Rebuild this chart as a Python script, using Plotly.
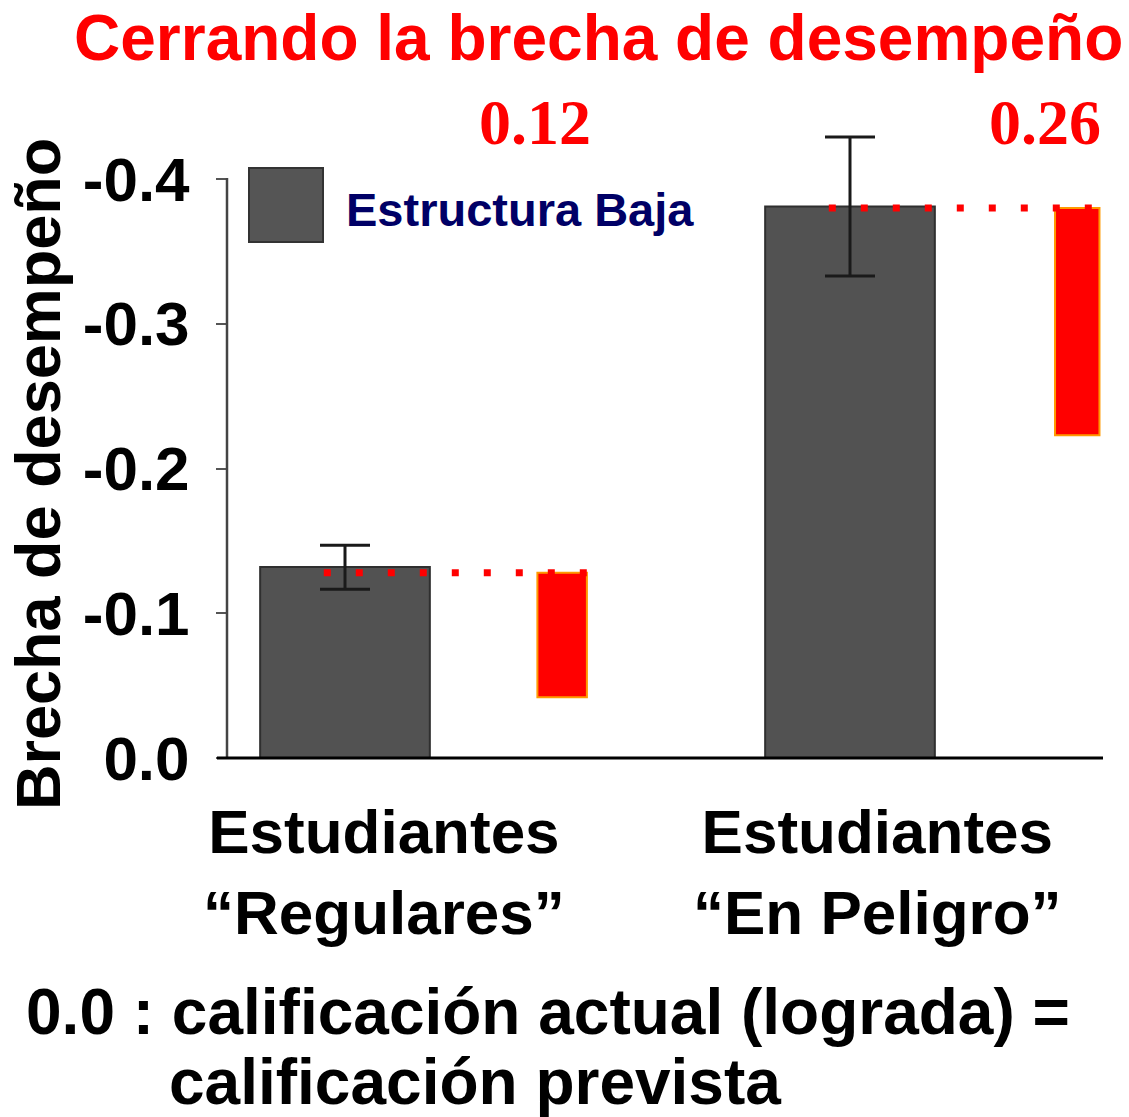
import plotly.graph_objects as go

# ---- data ----
groups = ["Estudiantes<br>“Regulares”", "Estudiantes<br>“En Peligro”"]
gap_low_structure = [-0.132, -0.381]      # gray bars (Estructura Baja)
err_top = [-0.147, -0.429]                # upper end of error bar
err_bottom = [-0.1165, -0.333]            # lower end of error bar
closed_from = [-0.128, -0.380]            # red bars: start of closed gap
closed_to = [-0.042, -0.223]              # red bars: end of closed gap
closed_labels = ["0.12", "0.26"]
y_ticks = [0.0, -0.1, -0.2, -0.3, -0.4]
y_tick_text = ["0.0", "-0.1", "-0.2", "-0.3", "-0.4"]

W, H = 1129, 1117
L, R, T, B = 227, 1103, 100, 758  # plot area in pixels
AXIS_TOP = 178                     # top end of the drawn y axis line
PX_PER_UNIT = 1447.5               # vertical pixels per 1.0 of gap


def px(x):
    return (x - L) / (R - L)


def py(y):
    return (B - y) / (B - T)


pos = [0, 1]
red_offset = [0.43, 0.45]

fig = go.Figure()

fig.add_trace(go.Bar(
    x=pos, y=gap_low_structure, width=0.336,
    marker=dict(color="#525252", line=dict(color="#2f2f2f", width=2)),
    error_y=dict(
        type="data", symmetric=False,
        array=[b - v for b, v in zip(err_bottom, gap_low_structure)],
        arrayminus=[v - t for v, t in zip(gap_low_structure, err_top)],
        color="#1a1a1a", thickness=3, width=25),
    showlegend=False, hoverinfo="skip"))

fig.add_trace(go.Bar(
    x=[p + o for p, o in zip(pos, red_offset)],
    y=[f - t for f, t in zip(closed_from, closed_to)],
    base=closed_to, width=[0.098, 0.088],
    marker=dict(color="#ff0000", line=dict(color="#ff9900", width=2)),
    showlegend=False, hoverinfo="skip"))

# dotted guides from gray bar level to red bar
for p, o, lvl in zip(pos, red_offset, closed_from):
    fig.add_trace(go.Scatter(
        x=[p - 0.042, p + o + 0.05], y=[lvl, lvl], mode="lines",
        line=dict(color="#ff0000", width=7, dash="7px,25px"),
        showlegend=False, hoverinfo="skip"))

fig.update_layout(
    width=W, height=H,
    margin=dict(l=L, r=W - R, t=T, b=H - B),
    paper_bgcolor="white", plot_bgcolor="white",
    barmode="overlay",
    xaxis=dict(range=[(L - 345) / 505, (R - 345) / 505], showgrid=False,
               zeroline=False, showline=False, showticklabels=False,
               ticks=""),
    yaxis=dict(range=[0, -(B - T) / PX_PER_UNIT], showgrid=False,
               zeroline=False, showline=False,
               tickvals=y_ticks, ticktext=y_tick_text, ticks="outside",
               ticklen=10, tickwidth=2, tickcolor="#555555",
               ticklabelstandoff=14,
               tickfont=dict(family="Liberation Sans", size=62, color="black",
                             weight="bold")),
)

# axis lines
fig.add_shape(type="line", xref="paper", yref="paper",
              x0=0, x1=0, y0=0, y1=py(AXIS_TOP),
              line=dict(color="#444444", width=2.5))
fig.add_shape(type="line", xref="paper", yref="paper",
              x0=px(217), x1=px(1103), y0=0, y1=0,
              line=dict(color="black", width=3))

# legend swatch
fig.add_shape(type="rect", xref="paper", yref="paper",
              x0=px(249), x1=px(323), y0=py(242), y1=py(168),
              fillcolor="#555555", line=dict(color="#333333", width=2))

ann = []
ann.append(dict(text="Estructura Baja", x=px(344), y=py(209), xanchor="left",
                yanchor="middle",
                font=dict(family="Liberation Sans", size=47, color="#000066",
                          weight="bold")))
ann.append(dict(text="Cerrando la brecha de desempeño", x=px(598), y=py(38),
                xanchor="center", yanchor="middle",
                font=dict(family="Liberation Sans", size=64, color="#ff0000",
                          weight="bold")))
for xc, t in zip([535, 1045], closed_labels):
    ann.append(dict(text=t, x=px(xc), y=py(123), xanchor="center",
                    yanchor="middle",
                    font=dict(family="Liberation Serif", size=64,
                              color="#ff0000", weight="bold")))
ann.append(dict(text="Brecha de desempeño", x=px(38), y=py(474),
                textangle=-90, xanchor="center", yanchor="middle",
                font=dict(family="Liberation Sans", size=63, color="black",
                          weight="bold")))
for xc, g in zip([384, 877], groups):
    ann.append(dict(text=g, x=px(xc), y=py(872), xanchor="center",
                    yanchor="middle",
                    font=dict(family="Liberation Sans", size=62,
                              color="black", weight="bold")))
ann.append(dict(text="0.0 : calificación actual (lograda) =", x=px(24),
                y=py(1012), xanchor="left", yanchor="middle",
                font=dict(family="Liberation Sans", size=64, color="black",
                          weight="bold")))
ann.append(dict(text="calificación prevista", x=px(167), y=py(1082),
                xanchor="left", yanchor="middle",
                font=dict(family="Liberation Sans", size=64, color="black",
                          weight="bold")))
for a in ann:
    a.update(xref="paper", yref="paper", showarrow=False)
fig.update_layout(annotations=ann)

fig.write_html("out.html")
